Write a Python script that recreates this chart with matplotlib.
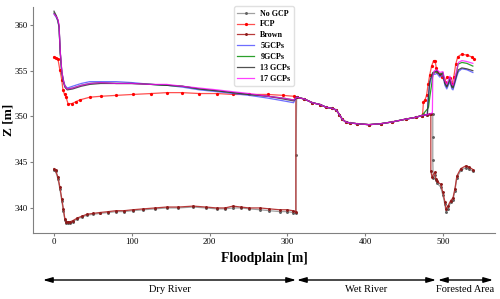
import matplotlib
matplotlib.use('Agg')
import matplotlib.pyplot as plt
import numpy as np
from matplotlib.patches import FancyArrowPatch

plt.rcParams['font.family'] = ['Liberation Serif', 'DejaVu Serif']

# --- data ---
# shared middle section (wet river), all surveys agree here
mid_x = [312, 322, 332, 342, 350, 357, 363, 367, 370.5, 375, 380, 390, 405, 420, 435, 452, 465, 473, 480, 484]
mid_z = [352.1, 351.9, 351.5, 351.3, 351.0, 350.9, 350.7, 350.2, 349.7, 349.4, 349.3, 349.2, 349.1, 349.2,
         349.4, 349.7, 349.9, 350.1, 350.2, 350.3]

# upper dry-river bank (GCP runs)
up_x = [0, 3, 5, 6.5, 8, 10, 12, 14, 17, 24, 35, 46, 60, 80, 100, 125, 145, 165, 187, 210, 230, 251, 275, 295, 308]
gcp5_left = [361.2, 360.8, 360.4, 359.7, 357.0, 354.9, 354.0, 353.4, 353.1, 353.3, 353.6, 353.8, 353.8, 353.8,
             353.7, 353.5, 353.4, 353.2, 352.9, 352.7, 352.5, 352.3, 352.0, 351.7, 351.5]
gcp9_left = [361.3, 360.9, 360.5, 359.8, 357.0, 354.9, 353.9, 353.3, 353.0, 353.1, 353.4, 353.6, 353.7, 353.6,
             353.6, 353.5, 353.4, 353.3, 353.0, 352.8, 352.6, 352.4, 352.2, 352.0, 351.8]
gcp13_left = [361.5, 361.0, 360.5, 359.8, 357.0, 354.8, 353.8, 353.2, 352.9, 353.0, 353.3, 353.5, 353.6, 353.6,
              353.6, 353.5, 353.4, 353.3, 353.0, 352.8, 352.6, 352.4, 352.2, 351.9, 351.7]
gcp17_left = [361.2, 360.9, 360.6, 360.0, 357.2, 355.0, 353.9, 353.3, 353.0, 353.1, 353.4, 353.6, 353.7, 353.6,
              353.6, 353.5, 353.5, 353.3, 353.1, 352.9, 352.7, 352.5, 352.2, 352.0, 351.8]

fcp_left_x = [0, 3, 5, 7.5, 10, 11.5, 13.5, 15.5, 18, 23, 28, 33, 46, 60, 80, 101, 125, 145, 165, 187, 210, 230,
              251, 275, 295, 308]
fcp_left_z = [356.5, 356.4, 356.3, 355.1, 354.0, 352.9, 352.4, 352.1, 351.4, 351.4, 351.6, 351.8, 352.1, 352.2,
              352.3, 352.4, 352.5, 352.6, 352.6, 352.5, 352.5, 352.4, 352.4, 352.4, 352.3, 352.2]

# lower dry-river bank (No GCP, Brown)
low_x = [0, 2, 5, 7.5, 10, 12, 14, 16, 18, 21, 24, 30, 36, 42, 50, 59, 70, 80, 90, 101, 115, 130, 145, 160, 179,
         195, 209, 220, 230, 240, 251, 265, 277, 290, 300, 307, 311, 311]
brown_left = [344.3, 344.1, 343.4, 342.3, 341.0, 339.9, 338.8, 338.5, 338.5, 338.5, 338.6, 338.9, 339.1, 339.3,
              339.4, 339.5, 339.6, 339.7, 339.7, 339.8, 339.9, 340.0, 340.1, 340.1, 340.2, 340.1, 340.0, 340.0,
              340.2, 340.1, 340.0, 340.0, 339.9, 339.8, 339.8, 339.7, 339.6, 352.1]
nogcp_left = [344.2, 344.0, 343.2, 342.1, 340.8, 339.7, 338.7, 338.4, 338.4, 338.4, 338.5, 338.8, 339.0, 339.2,
              339.3, 339.4, 339.5, 339.6, 339.6, 339.7, 339.8, 339.9, 340.0, 340.0, 340.1, 340.0, 339.9, 339.9,
              340.0, 340.0, 339.9, 339.8, 339.7, 339.6, 339.6, 339.5, 339.4, 345.8]

# forested area (right bank)
brown_right_x = [484.5, 484.5, 486, 489.5, 491, 492.5, 497, 500, 502.5, 504, 506.5, 510, 513, 515.5, 518, 523,
                 529.5, 533, 538.5]
brown_right_z = [350.3, 344.0, 343.4, 343.9, 343.2, 342.9, 342.6, 341.7, 340.7, 339.9, 340.2, 340.8, 341.1,
                 342.1, 343.5, 344.3, 344.6, 344.5, 344.2]
nogcp_right_x = [487, 487, 487, 487.5, 489.5, 491, 492.5, 497, 500, 502.5, 504, 506.5, 510, 513, 515.5, 518, 523,
                 529.5, 533, 538.5]
nogcp_right_z = [350.3, 347.7, 345.2, 343.3, 343.6, 343.0, 342.7, 342.3, 341.4, 340.4, 339.6, 339.9, 340.6,
                 340.9, 341.9, 343.3, 344.1, 344.4, 344.3, 344.0]
fcp_right_x = [474, 475, 477, 479, 481, 483, 485.5, 488, 490, 491.5, 493, 496, 499, 502.5, 505, 509, 511.5, 514,
               516.5, 519, 524, 531, 537, 540]
fcp_right_z = [350.3, 351.6, 351.8, 352.3, 353.5, 354.5, 355.5, 356.1, 356.1, 355.3, 354.8, 354.6, 354.3, 353.8,
               354.3, 354.2, 353.5, 354.3, 355.7, 356.5, 356.8, 356.7, 356.5, 356.3]
gcp5_right_x = [481, 483, 485.5, 487, 490, 492.3, 496, 500, 502.6, 505, 509, 511.6, 513, 515.4, 518, 520, 524.4,
                530.8, 538.5]
gcp5_right_z = [352.0, 353.5, 354.3, 354.6, 354.6, 354.7, 354.3, 354.5, 353.4, 353.0, 353.8, 353.0, 352.9, 353.6,
                354.4, 354.9, 355.2, 355.1, 354.8]
gcp9_right_x = [480, 481.5, 483.3, 485.9, 487.1, 489.5, 492.3, 496.1, 500, 502.6, 505.1, 509, 511.6, 512.9,
                515.4, 518, 519.3, 524.4, 530.8, 538.5]
gcp9_right_z = [350.8, 351.0, 352.2, 353.7, 354.6, 354.8, 354.9, 354.6, 354.8, 353.7, 353.3, 354.2, 353.3, 353.2,
                354.0, 354.9, 355.7, 355.9, 355.8, 355.5]
gcp13_right_x = [481, 483, 485.5, 487, 490, 492.3, 496, 500, 502.6, 505, 509, 511.6, 513, 515.4, 518, 520, 524.4,
                 530.8, 538.5]
gcp13_right_z = [351.5, 353.8, 354.5, 354.8, 354.9, 355.0, 354.5, 354.7, 353.6, 353.2, 354.0, 353.2, 353.1,
                 353.8, 354.6, 355.1, 355.3, 355.2, 355.0]
gcp17_right_x = [486.5, 487, 489, 492.3, 496, 500, 502.6, 505, 509, 511.6, 513, 515.4, 518, 520, 524.4, 530.8,
                 538.5]
gcp17_right_z = [350.4, 354.3, 355.0, 355.1, 354.8, 354.9, 353.9, 353.5, 354.4, 353.5, 353.4, 354.2, 355.1,
                 355.9, 356.1, 356.0, 355.8]

labels = ['No GCP', 'FCP', 'Brown', '5GCPs', '9GCPs', '13 GCPs', '17 GCPs']
zones = ['Dry River', 'Wet River', 'Forested Area']


def profile(left_x, left_z, mid_end, right_x, right_z):
  mx = np.array(mid_x)
  mz = np.array(mid_z)
  keep = mx <= mid_end
  x = np.concatenate([left_x, mx[keep], right_x])
  z = np.concatenate([left_z, mz[keep], right_z])
  return x, z


series = [
  (profile(low_x, nogcp_left, 484, nogcp_right_x, nogcp_right_z),
   dict(color='#a0a0a0', lw=0.9, marker='.', ms=2.2, mfc='#606060', mec='#606060', zorder=2)),
  (profile(fcp_left_x, fcp_left_z, 473, fcp_right_x, fcp_right_z),
   dict(color='#ff5050', lw=0.9, marker='.', ms=2.6, mfc='red', mec='red', zorder=3)),
  (profile(low_x, brown_left, 484, brown_right_x, brown_right_z),
   dict(color='#b83a3a', lw=0.9, marker='.', ms=2.2, mfc='#8b1a1a', mec='#8b1a1a', zorder=3)),
  (profile(up_x, gcp5_left, 480, gcp5_right_x, gcp5_right_z),
   dict(color='#4a4aff', lw=0.9, alpha=0.8, zorder=4)),
  (profile(up_x, gcp9_left, 473, gcp9_right_x, gcp9_right_z),
   dict(color='#2ca02c', lw=0.9, zorder=4)),
  (profile(up_x, gcp13_left, 480, gcp13_right_x, gcp13_right_z),
   dict(color='#333333', lw=0.9, alpha=0.85, zorder=5)),
  (profile(up_x, gcp17_left, 484, gcp17_right_x, gcp17_right_z),
   dict(color='magenta', lw=0.9, alpha=0.75, zorder=6)),
]

fig = plt.figure(figsize=(5, 2.99), dpi=100)
ax = fig.add_axes([0.066, 0.221, 0.924, 0.756])

for ((x, z), style), label in zip(series, labels):
  ax.plot(x, z, label=label, **style)

ax.set_xlim(-27, 567)
ax.set_ylim(337.27, 361.97)
ax.set_xticks([0, 100, 200, 300, 400, 500])
ax.set_yticks([340, 345, 350, 355, 360])
for side in ['top', 'right']:
  ax.spines[side].set_visible(False)
for side in ['left', 'bottom']:
  ax.spines[side].set_color('#808080')
ax.tick_params(labelsize=6.3, length=2.5, color='#808080', pad=1.5)
ax.set_xlabel('Floodplain [m]', fontsize=9.8, fontweight='bold', labelpad=4)
ax.set_ylabel('Z [m]', fontsize=9.5, fontweight='bold', va='center')
ax.yaxis.set_label_coords(-0.053, 0.5)

leg = ax.legend(loc='upper center', bbox_to_anchor=(0.5, 1.02), prop={'size': 5.8, 'weight': 'bold'},
                handlelength=2.1, handletextpad=0.75, labelspacing=0.35, borderpad=0.4,
                framealpha=1, edgecolor='#e0e0e0')

# zone arrows below the axis
arrow_y = 1 - 280 / 299
text_y = 1 - 290 / 299
spans = [(43, 296), (297, 436), (438, 493)]
for (x0, x1), name in zip(spans, zones):
  fig.patches.append(FancyArrowPatch((x0 / 500, arrow_y), (x1 / 500, arrow_y), transform=fig.transFigure,
                                     arrowstyle='<|-|>,head_length=5.5,head_width=1.6', color='black',
                                     lw=1.0, shrinkA=0, shrinkB=0, mutation_scale=1))
  fig.text((x0 + x1) / 1000, text_y, name, ha='center', va='center', fontsize=7.5)

fig.savefig('out.png', dpi=100)
